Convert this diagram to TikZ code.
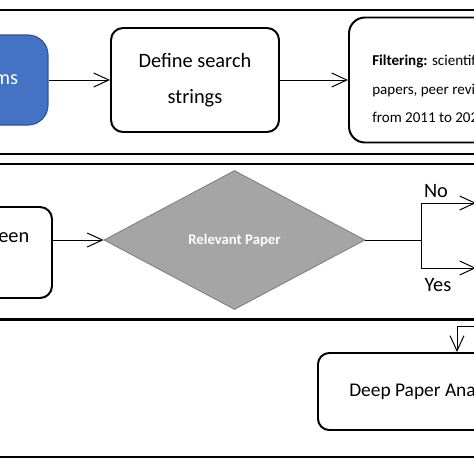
\documentclass[tikz,border=0pt]{standalone}
\usepackage{fontspec}
\setmainfont{Carlito}
\usepackage{xcolor}
\usepackage{tikz}
\usetikzlibrary{positioning}
\usetikzlibrary{shapes.geometric}
\usetikzlibrary{arrows.meta}
\pgfdeclarelayer{nodelayer}
\pgfdeclarelayer{edgelayer}
\pgfsetlayers{nodelayer,edgelayer,main}
\definecolor{termblue}{HTML}{4472C4}
\definecolor{termborder}{HTML}{2F528F}
\definecolor{decisiongray}{HTML}{A5A5A5}
\definecolor{decisionborder}{HTML}{7F7F7F}
\tikzset{
    none/.style = {inner sep=0pt},
    panel/.style = {draw=black, line width=1.3pt},
    terminal/.style = {draw=termborder, fill=termblue, line width=0.8pt, rounded corners=0.5cm, text=white, font=\fontsize{14.5}{17}\selectfont},
    process/.style = {draw, line width=1.4pt, rounded corners=0.3cm, align=center, font=\fontsize{14.5}{25.6}\selectfont},
    decision/.style = {diamond, draw=decisionborder, fill=decisiongray, line width=0.6pt, inner sep=0pt, text=white, font=\fontsize{10.5}{12}\selectfont\bfseries},
    bigtext/.style = {inner sep=0pt, font=\fontsize{14.5}{17}\selectfont},
    smalltext/.style = {inner sep=0pt, align=left, font=\fontsize{10.7}{20.6}\selectfont},
    link/.style = {line width=0.7pt},
    flow/.style = {line width=0.7pt, -{Straight Barb[length=3.8mm, width=3.5mm]}}
}

\begin{document}
\begin{tikzpicture}
    \useasboundingbox (0, 0) rectangle (11.85, -11.85);
    \begin{pgfonlayer}{nodelayer}
        \clip (0, 0) rectangle (11.85, -11.85);
        % the three bands, cut by the picture edge
        \draw [style=panel] (-0.5, -0.25) rectangle (12.35, -3.84);
        \draw [style=panel] (-0.5, -4.1) rectangle (12.35, -7.97);
        \draw [style=panel] (-0.5, -8.0) rectangle (12.35, -11.42);
        \node [style=terminal, minimum width=2.1cm, minimum height=2.25cm] (0) at (0.15, -2) {ms};
        \node [style=process, minimum width=4.2cm, minimum height=2.6cm] (1) at (4.875, -2) {Define search\\strings};
        \node [style=process, rounded corners=0.4cm, minimum width=5cm, minimum height=3.125cm] (2) at (11.225, -2) {};
        \node [style=smalltext, anchor=west] (3) at (9.3, -2.22) {\textbf{Filtering:} scientif\\papers, peer revi\\from 2011 to 202};
        \node [style=process, minimum width=3.3cm, minimum height=2.275cm] (4) at (-0.35, -6.3125) {};
        \node [style=bigtext, anchor=east] (5) at (0.74, -5.95) {een};
        \node [style=decision, minimum width=6.525cm, minimum height=3.475cm] (6) at (5.8625, -6) {Relevant Paper};
        \node [style=none] (7) at (10.525, -6) {};
        \node [style=none] (8) at (10.525, -5.075) {};
        \node [style=none] (9) at (11.9, -5.075) {};
        \node [style=none] (10) at (10.525, -6.7) {};
        \node [style=none] (11) at (11.9, -6.7) {};
        \node [style=bigtext] (12) at (10.9, -4.78) {No};
        \node [style=bigtext] (13) at (10.95, -7.12) {Yes};
        \node [style=process, rounded corners=0.28cm, minimum width=6cm, minimum height=1.925cm] (14) at (10.95, -9.7875) {};
        \node [style=bigtext, anchor=west, font=\fontsize{13.8}{17}\selectfont] (15) at (8.725, -9.8) {Deep Paper Ana};
        \node [style=none] (16) at (11.425, -8.15) {};
        \node [style=none] (17) at (12.2, -8.15) {};
    \end{pgfonlayer}
    \begin{pgfonlayer}{edgelayer}
        \clip (0, 0) rectangle (11.85, -11.85);
        \draw [style=flow] (0.east) to (1.west);
        \draw [style=flow] (1.east) to (2.west);
        \draw [style=flow] (4.east |- 6.west) to (6.west);
        \draw [style=link] (6.east) to (7.center);
        \draw [style=link] (8.center) to (10.center);
        \draw [style=flow] (8.center) to (9.center);
        \draw [style=flow] (10.center) to (11.center);
        % elbow coming in from the right
        \draw [style=flow] (17.center) to (16.center) to (16.center |- 14.north);
    \end{pgfonlayer}
\end{tikzpicture}
\end{document}
